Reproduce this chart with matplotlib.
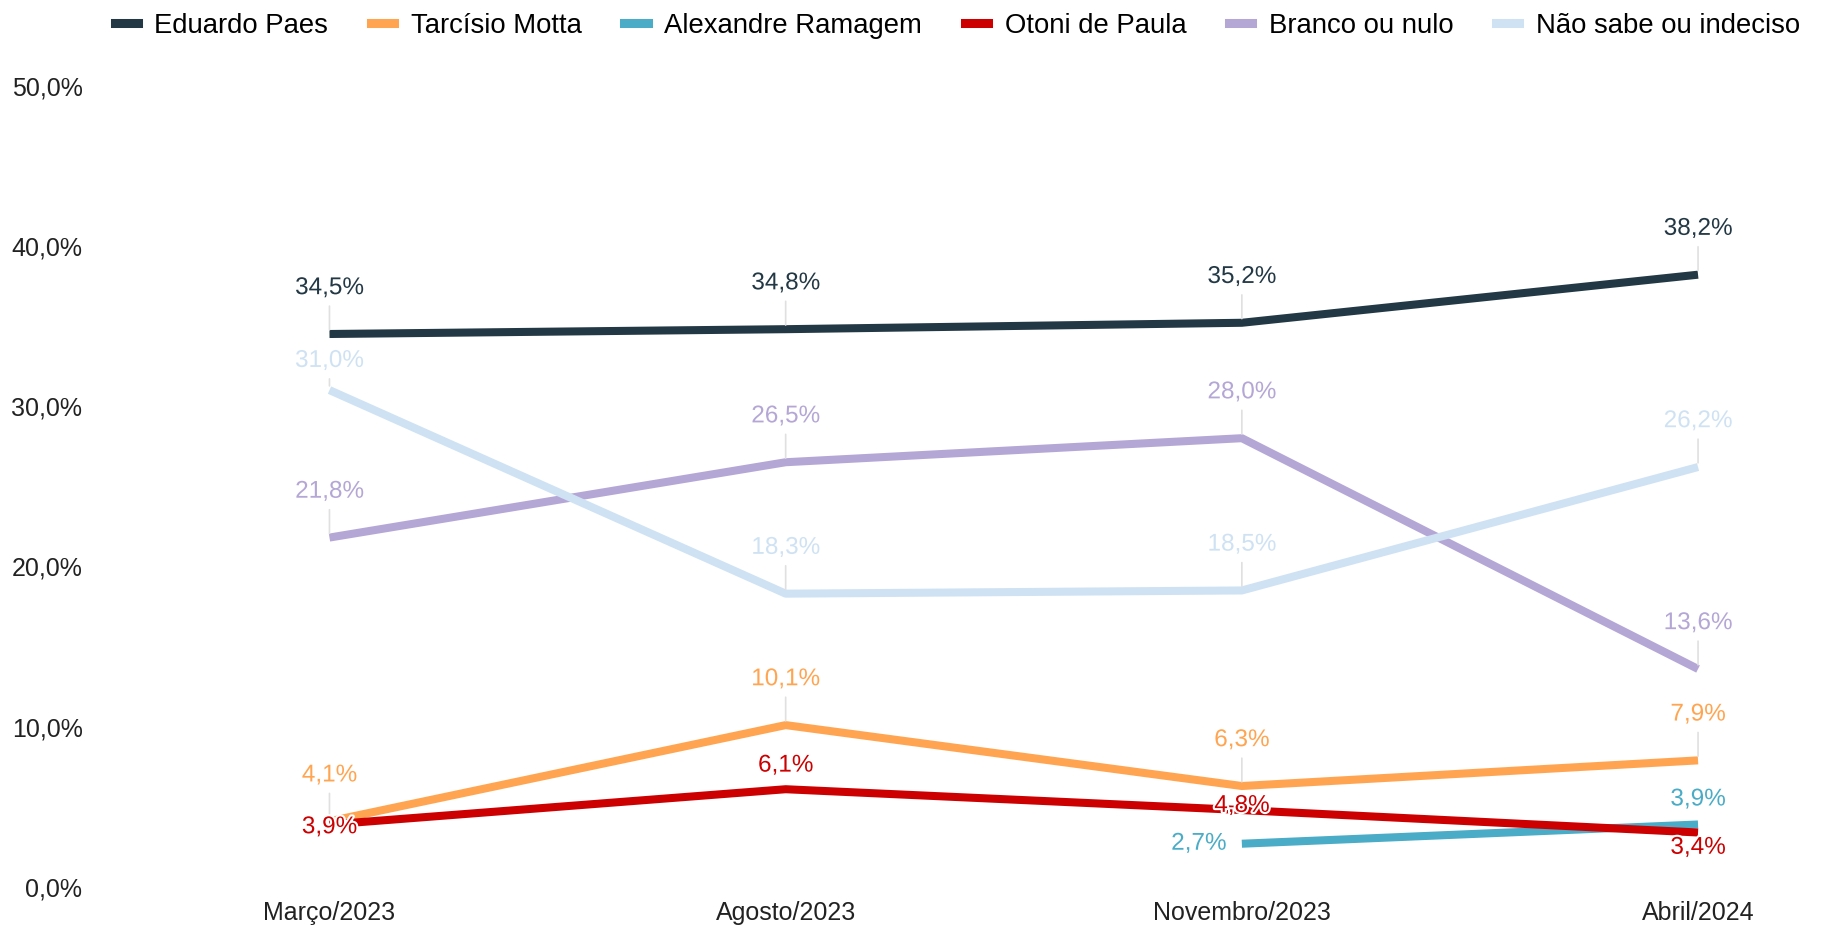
import matplotlib
matplotlib.use('Agg')
import matplotlib.pyplot as plt
import matplotlib.patheffects as pe
from matplotlib.lines import Line2D
import numpy as np

plt.rcParams['font.family'] = ['Liberation Sans', 'DejaVu Sans']

meses = ['Março/2023', 'Agosto/2023', 'Novembro/2023', 'Abril/2024']
nomes = ['Eduardo Paes', 'Tarcísio Motta', 'Alexandre Ramagem', 'Otoni de Paula',
         'Branco ou nulo', 'Não sabe ou indeciso']
cores = ['#233845', '#ffa551', '#4aacc6', '#cc0000', '#b4a7d6', '#cfe2f3']

paes = [34.5, 34.8, 35.2, 38.2]
motta = [4.1, 10.1, 6.3, 7.9]
ramagem = [np.nan, np.nan, 2.7, 3.9]
otoni = [3.9, 6.1, 4.8, 3.4]
branco = [21.8, 26.5, 28.0, 13.6]
indeciso = [31.0, 18.3, 18.5, 26.2]
series = [paes, motta, ramagem, otoni, branco, indeciso]

# deslocamento dos rótulos (pontos), padrão acima com linha guia
padrao = (0, 33, True)
ajustes = {
    (5, 0): (0, 21, True),
    (3, 0): (0, -2, False),
    (3, 1): (0, 17, False),
    (3, 2): (0, 3, False),
    (3, 3): (0, -11, False),
    (2, 2): (-31, 0, False),
    (2, 3): (0, 18, False),
}

fig = plt.figure(figsize=(18.39, 9.26), dpi=100)
ax = fig.add_axes([95 / 1839, 39 / 926, 1 - 95 / 1839, 0.8655])

x = np.arange(len(meses))
for i, (nome, cor, vals) in enumerate(zip(nomes, cores, series)):
    ax.plot(x, vals, color=cor, lw=5.8, solid_capstyle='butt', zorder=2 + i * 0.1)

for i, (cor, vals) in enumerate(zip(cores, series)):
    for j, v in enumerate(vals):
        if np.isnan(v):
            continue
        dx, dy, guia = ajustes.get((i, j), padrao)
        txt = ('%.1f%%' % v).replace('.', ',')
        kw = {}
        if guia:
            kw['arrowprops'] = dict(arrowstyle='-', color='#e0e0e0', lw=1.2,
                                    shrinkA=3, shrinkB=3, relpos=(0.5, 0))
        ax.annotate(txt, xy=(j, v), xytext=(dx, dy), textcoords='offset points',
                    ha='center', va='center', color=cor, fontsize=17.5, zorder=5,
                    path_effects=[pe.withStroke(linewidth=3, foreground='white')], **kw)

ax.set_xlim(-0.514, 3.309)
ax.set_ylim(0, 50)
ax.set_xticks(x)
ax.set_xticklabels(meses, fontsize=18, color='#222222')
yt = np.arange(0, 51, 10)
ax.set_yticks(yt)
ax.set_yticklabels([('%.1f%%' % t).replace('.', ',') for t in yt], fontsize=18, color='#222222')
ax.tick_params(axis='both', length=0)
ax.tick_params(axis='y', pad=9)
ax.tick_params(axis='x', pad=10)
for s in ax.spines.values():
    s.set_visible(False)

handles = [Line2D([0], [0], color=c, lw=6.5) for c in cores]
fig.legend(handles, nomes, loc='center', bbox_to_anchor=(0.5205, 0.972), ncol=6,
           frameon=False, fontsize=19.8, handlelength=0.85, handletextpad=0.6,
           columnspacing=1.55)

fig.savefig('out.png', dpi=100, facecolor='white')
